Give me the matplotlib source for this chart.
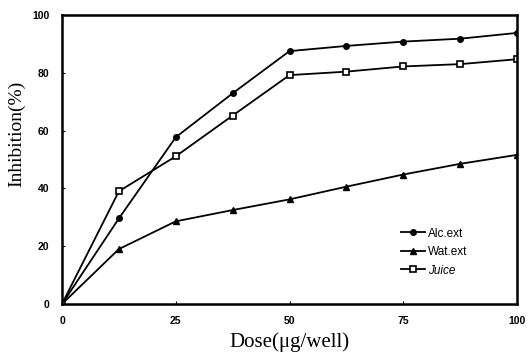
from matplotlib import pyplot as plt

# data
dose_x = [0, 12.5, 25, 37.5, 50, 62.5, 75, 87.5, 100]
alc_y = [0, 29.6, 57.7, 72.9, 87.5, 89.3, 90.8, 91.8, 93.8]
wat_y = [0, 19, 28.6, 32.5, 36.2, 40.6, 44.8, 48.5, 51.6]
juice_y = [0, 39, 51.1, 65.2, 79.2, 80.4, 82.2, 83.0, 84.7]
x_ticks = [0, 25, 50, 75, 100]
y_ticks = [0, 20, 40, 60, 80, 100]

fig = plt.figure(figsize=(5.3, 3.58), dpi=100)
ax = fig.add_axes([62 / 530, 1 - 304 / 358, 455 / 530, 289 / 358])

ax.plot(dose_x, alc_y, color='black', linewidth=1.3, marker='o', markersize=4, label='Alc.ext')
ax.plot(dose_x, wat_y, color='black', linewidth=1.3, marker='^', markersize=4.5, label='Wat.ext')
ax.plot(dose_x, juice_y, color='black', linewidth=1.3, marker='s', markersize=4.5,
        markerfacecolor='white', markeredgewidth=1.2, label='Juice')

ax.set_xlim(0, 100)
ax.set_ylim(0, 100)
ax.set_xticks(x_ticks)
ax.set_yticks(y_ticks)
ax.tick_params(direction='in', length=2, labelsize=7.5, pad=9)
for lab in ax.get_xticklabels() + ax.get_yticklabels():
    lab.set_fontfamily('Liberation Sans')
    lab.set_fontweight('bold')
for s in ax.spines.values():
    s.set_linewidth(1.8)

ax.set_xlabel('Dose(μg/well)', family='Liberation Serif', fontsize=15, labelpad=4)
ax.set_ylabel('Inhibition(%)', family='Liberation Serif', fontsize=14)
ax.yaxis.set_label_coords(-0.08, 0.59)

leg = ax.legend(loc='lower right', bbox_to_anchor=(0.89, 0.095), frameon=False,
                prop={'family': 'Liberation Sans', 'size': 8.5},
                handlelength=2.0, handletextpad=0.25, labelspacing=0.55,
                borderpad=0, borderaxespad=0)
leg.get_texts()[2].set_fontstyle('italic')

plt.savefig('out.png', dpi=100)
